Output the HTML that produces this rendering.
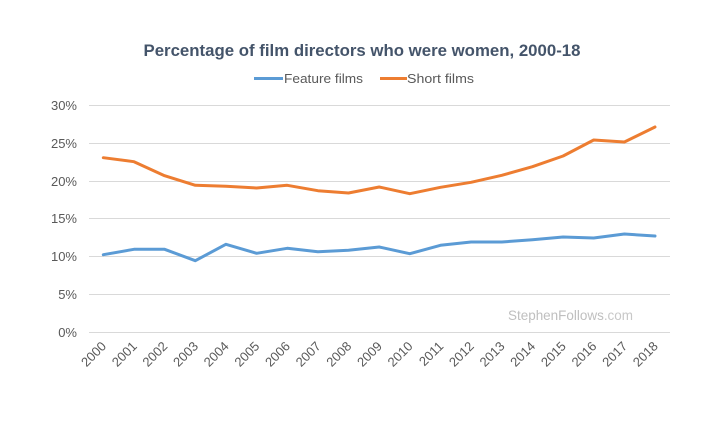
<!DOCTYPE html>
<html>
<head>
<meta charset="utf-8">
<style>
  html, body { margin:0; padding:0; background:#fff; }
  svg { display:block; }
  text { font-family: "Liberation Sans", "DejaVu Sans", sans-serif; }
</style>
</head>
<body>
<svg width="720" height="422" viewBox="0 0 720 422" xmlns="http://www.w3.org/2000/svg">
  <rect width="720" height="422" fill="#ffffff"/>
  <!-- Title -->
  <text x="362" y="56" text-anchor="middle" font-size="17" font-weight="bold" fill="#44546A" textLength="437" lengthAdjust="spacingAndGlyphs">Percentage of film directors who were women, 2000-18</text>
  <!-- Legend -->
  <line x1="254" y1="78.5" x2="283" y2="78.5" stroke="#5B9BD5" stroke-width="3"/>
  <text x="284" y="83" font-size="13" fill="#595959" textLength="79" lengthAdjust="spacingAndGlyphs">Feature films</text>
  <line x1="380" y1="78.5" x2="407" y2="78.5" stroke="#ED7D31" stroke-width="3"/>
  <text x="407" y="83" font-size="13" fill="#595959" textLength="67" lengthAdjust="spacingAndGlyphs">Short films</text>
  <!-- Gridlines -->
  <g stroke="#D9D9D9" stroke-width="1">
    <line x1="89" y1="105.5" x2="670" y2="105.5"/>
    <line x1="89" y1="143.5" x2="670" y2="143.5"/>
    <line x1="89" y1="181.5" x2="670" y2="181.5"/>
    <line x1="89" y1="218.5" x2="670" y2="218.5"/>
    <line x1="89" y1="256.5" x2="670" y2="256.5"/>
    <line x1="89" y1="294.5" x2="670" y2="294.5"/>
    <line x1="89" y1="332.5" x2="670" y2="332.5"/>
  </g>
  <!-- Y labels -->
  <g font-size="13" fill="#595959" text-anchor="end">
    <text x="77" y="110">30%</text>
    <text x="77" y="148">25%</text>
    <text x="77" y="186">20%</text>
    <text x="77" y="223">15%</text>
    <text x="77" y="261">10%</text>
    <text x="77" y="299">5%</text>
    <text x="77" y="337">0%</text>
  </g>
  <!-- Watermark -->
  <text x="508" y="320" font-size="14" fill="#BFBFBF" textLength="125" lengthAdjust="spacingAndGlyphs">StephenFollows<tspan fill="#C8C8C8">.com</tspan></text>
  <!-- Series -->
  <polyline fill="none" stroke="#ED7D31" stroke-width="3" stroke-linejoin="round" stroke-linecap="round"
    points="103.3,157.7 134,161.7 164.6,175.7 195.3,185.3 225.9,186.3 256.6,188 287.2,185.3 317.9,190.7 348.5,193 379.2,187 409.8,193.7 440.5,187.3 471.1,182.3 501.8,175.3 532.4,166.7 563.1,156 593.7,140 624.4,142 655,127"/>
  <polyline fill="none" stroke="#5B9BD5" stroke-width="3" stroke-linejoin="round" stroke-linecap="round"
    points="103.3,254.7 134,249.3 164.6,249.3 195.3,260.7 225.9,244.3 256.6,253.3 287.2,248.3 317.9,251.7 348.5,250.3 379.2,247 409.8,253.7 440.5,245.3 471.1,242 501.8,242 532.4,239.7 563.1,237 593.7,238 624.4,234 655,236"/>
  <!-- X labels -->
  <g font-size="13" fill="#595959" text-anchor="end">
    <text transform="translate(107,347) rotate(-45)">2000</text>
    <text transform="translate(137.7,347) rotate(-45)">2001</text>
    <text transform="translate(168.3,347) rotate(-45)">2002</text>
    <text transform="translate(199,347) rotate(-45)">2003</text>
    <text transform="translate(229.6,347) rotate(-45)">2004</text>
    <text transform="translate(260.3,347) rotate(-45)">2005</text>
    <text transform="translate(290.9,347) rotate(-45)">2006</text>
    <text transform="translate(321.6,347) rotate(-45)">2007</text>
    <text transform="translate(352.2,347) rotate(-45)">2008</text>
    <text transform="translate(382.9,347) rotate(-45)">2009</text>
    <text transform="translate(413.5,347) rotate(-45)">2010</text>
    <text transform="translate(444.2,347) rotate(-45)">2011</text>
    <text transform="translate(474.8,347) rotate(-45)">2012</text>
    <text transform="translate(505.5,347) rotate(-45)">2013</text>
    <text transform="translate(536.1,347) rotate(-45)">2014</text>
    <text transform="translate(566.8,347) rotate(-45)">2015</text>
    <text transform="translate(597.4,347) rotate(-45)">2016</text>
    <text transform="translate(628.1,347) rotate(-45)">2017</text>
    <text transform="translate(658.7,347) rotate(-45)">2018</text>
  </g>
</svg>
</body>
</html>
